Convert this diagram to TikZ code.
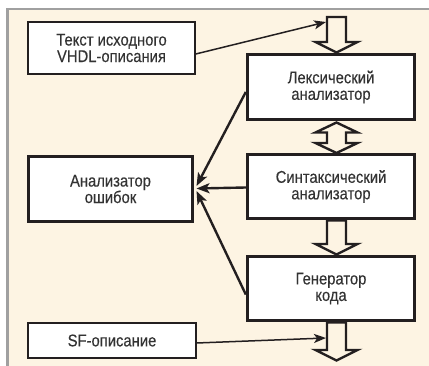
\documentclass[tikz,border=0pt]{standalone}
\usepackage{fontspec}
\setmainfont[FakeStretch=0.87,FakeBold=0.3]{Liberation Sans}
\usetikzlibrary{arrows.meta}
\definecolor{cream}{HTML}{FDF4E3}
\definecolor{frame}{HTML}{A0A0A0}
\definecolor{ink}{HTML}{231F20}
\definecolor{txt}{HTML}{333333}
\tikzset{
  thickbox/.style={draw=ink, line width=3.4pt, fill=white, inner sep=0pt, align=center,
    font=\fontsize{17}{16.5}\selectfont, text=txt},
  thinbox/.style={draw=ink, line width=1.5pt, fill=white, inner sep=0pt, align=center,
    font=\fontsize{17}{16.5}\selectfont, text=txt},
  conn/.style={draw=ink, line width=2.4pt, -{Stealth[length=13pt,width=10pt,inset=3pt]}},
  thinconn/.style={draw=ink, line width=1.5pt, -{Stealth[length=12pt,width=9pt,inset=3pt]}},
  hollow/.style={draw=ink, line width=2.4pt, fill=cream, line join=miter}
}
\begin{document}
\begin{tikzpicture}[x=1pt,y=-1pt]
\useasboundingbox (0,0) rectangle (429,366);
\fill[white] (0,0) rectangle (429,366);
\fill[cream] (8,8) rectangle (429,366);
\draw[frame, line width=2.5pt] (7.5,366) -- (7.5,9.25) -- (429,9.25);

% boxes
\node[thinbox, minimum width=167pt, minimum height=52pt] (vhdl) at (111.5,48) {Текст исходного\\VHDL-описания};
\node[thickbox, minimum width=167pt, minimum height=65pt] (lex) at (331,87) {Лексический\\анализатор};
\node[thickbox, minimum width=164pt, minimum height=65pt] (err) at (110.5,189) {Анализатор\\ошибок};
\node[thickbox, minimum width=167pt, minimum height=64pt] (syn) at (331,186.5) {Синтаксический\\анализатор};
\node[thickbox, minimum width=167pt, minimum height=64pt] (gen) at (331,288.5) {Генератор\\кода};
\node[thinbox, minimum width=168pt, minimum height=35pt] (sf) at (112,340.5) {SF-описание};

% hollow arrows (x centre 336.5)
\def\cx{336.5}
\draw[hollow] (\cx-9.5,17) -- (\cx+9.5,17) -- (\cx+9.5,42) -- (\cx+21,42) -- (\cx,52.5) -- (\cx-21,42) -- (\cx-9.5,42) -- cycle;
\draw[hollow] (\cx,122.5) -- (\cx+21,132.5) -- (\cx+9.5,132.5) -- (\cx+9.5,143) -- (\cx+21,143) -- (\cx,153) -- (\cx-21,143) -- (\cx-9.5,143) -- (\cx-9.5,132.5) -- (\cx-21,132.5) -- cycle;
\draw[hollow] (\cx-9.5,220.5) -- (\cx+9.5,220.5) -- (\cx+9.5,244) -- (\cx+21,244) -- (\cx,254.5) -- (\cx-21,244) -- (\cx-9.5,244) -- cycle;
\draw[hollow] (\cx-9.5,322.5) -- (\cx+9.5,322.5) -- (\cx+9.5,350) -- (\cx+21,350) -- (\cx,360.5) -- (\cx-21,350) -- (\cx-9.5,350) -- cycle;

% connector endpoints
\coordinate (intop) at (326,22);
\coordinate (inbot) at (326,338);
\coordinate (errtip1) at (196.5,186);
\coordinate (errtip2) at (196.5,188.5);
\coordinate (errtip3) at (196.5,191);

\draw[thinconn] ([yshift=-6pt]vhdl.east) -- (intop);
\draw[thinconn] ([yshift=-2.5pt]sf.east) -- (inbot);
\draw[conn] ([yshift=-5pt]lex.west) -- (errtip1);
\draw[conn] ([yshift=-1pt]syn.west) -- (errtip2);
\draw[conn] ([yshift=-6pt]gen.west) -- (errtip3);
\end{tikzpicture}
\end{document}
